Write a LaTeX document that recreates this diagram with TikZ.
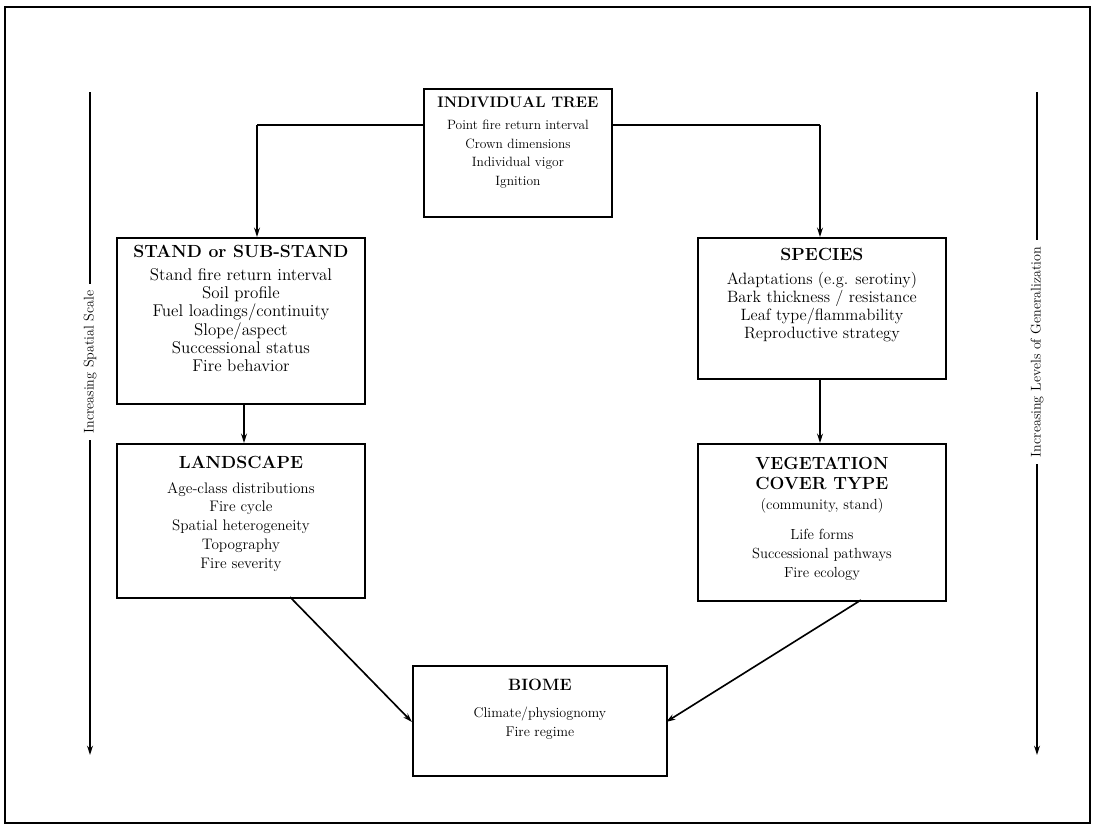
\documentclass[tikz,border=0pt]{standalone}
\usetikzlibrary{arrows.meta}
\begin{document}
\begin{tikzpicture}[x=0.03cm,y=-0.03cm,
  box/.style={draw,line width=1.6pt,inner sep=0pt,anchor=north west},
  txt/.style={align=center,inner sep=0pt,anchor=north},
  conn/.style={line width=1.4pt,-{Stealth[length=8pt,width=5pt]}},
  side/.style={line width=1.2pt},
  sidelab/.style={fill=white,rotate=90,inner xsep=6pt,inner ysep=2pt,font=\fontsize{12}{14}\selectfont}
]
\useasboundingbox (0,0) rectangle (1093,828);
\draw[line width=2.2pt] (5,7) rectangle (1090,823);

\def\ttl#1{\fontsize{#1}{#1}\selectfont\bfseries}

% boxes
\node[box,minimum width=188*0.03cm,minimum height=128*0.03cm] (tree) at (423,88) {};
\node[txt,font=\fontsize{11.5}{16}\selectfont] (treeT) at ([yshift=-7pt]tree.north)
  {{\ttl{13}INDIVIDUAL TREE}\\[3pt]
   Point fire return interval\\ Crown dimensions\\ Individual vigor\\ Ignition};

\node[box,minimum width=248*0.03cm,minimum height=166*0.03cm] (stand) at (116,237) {};
\node[txt,font=\fontsize{14.5}{15.5}\selectfont] (standT) at ([yshift=-7pt]stand.north)
  {{\ttl{15}STAND or SUB-STAND}\\[4pt]
   Stand fire return interval\\ Soil profile\\ Fuel loadings/continuity\\
   Slope/aspect\\ Successional status\\ Fire behavior};

\node[box,minimum width=248*0.03cm,minimum height=141*0.03cm] (species) at (697,237) {};
\node[txt,font=\fontsize{14}{15.5}\selectfont] (speciesT) at ([yshift=-9pt]species.north)
  {{\ttl{15}SPECIES}\\[5pt]
   Adaptations (e.g. serotiny)\\ Bark thickness / resistance\\
   Leaf type/flammability\\ Reproductive strategy};

\node[box,minimum width=248*0.03cm,minimum height=154*0.03cm] (land) at (116,443) {};
\node[txt,font=\fontsize{13}{16}\selectfont] (landT) at ([yshift=-11pt]land.north)
  {{\ttl{15}LANDSCAPE}\\[5pt]
   Age-class distributions\\ Fire cycle\\ Spatial heterogeneity\\
   Topography\\ Fire severity};

\node[box,minimum width=248*0.03cm,minimum height=157*0.03cm] (veg) at (697,443) {};
\node[txt,font=\fontsize{12.5}{16}\selectfont] (vegT) at ([yshift=-12pt]veg.north)
  {{\ttl{15}VEGETATION}\\[1pt]
   {\ttl{15}COVER TYPE}\\[1pt]
   (community, stand)\\[10pt]
   Life forms\\ Successional pathways\\ Fire ecology};

\node[box,minimum width=254*0.03cm,minimum height=110*0.03cm] (biome) at (412,665) {};
\node[txt,font=\fontsize{12}{16}\selectfont] (biomeT) at ([yshift=-12pt]biome.north)
  {{\ttl{14}BIOME}\\[7pt]
   Climate/physiognomy\\ Fire regime};

% connectors
\coordinate (tl) at (257,125);
\coordinate (tr) at (820,125);
\draw[line width=1.4pt] (tree.west |- tl) -- (tl);
\draw[conn] (tl) -- (tl |- stand.north);
\draw[line width=1.4pt] (tree.east |- tr) -- (tr);
\draw[conn] (tr) -- (tr |- species.north);
\coordinate (s1) at (244,403);
\draw[conn] (s1) -- (s1 |- land.north);
\coordinate (s2) at (820,378);
\draw[conn] (s2) -- (s2 |- veg.north);
\coordinate (l1) at (290,597);
\coordinate (b1) at (412,722);
\coordinate (v1) at (861,600);
\coordinate (b2) at (666,722);
\draw[conn] (l1) -- (b1);
\draw[conn] (v1) -- (b2);

% side arrows
\coordinate (lt) at (90,92);
\coordinate (lb) at (90,755);
\coordinate (rt) at (1037,92);
\coordinate (rb) at (1037,755);
\draw[side,-{Stealth[length=8pt,width=5pt]}] (lt) -- (lb);
\draw[side,-{Stealth[length=8pt,width=5pt]}] (rt) -- (rb);
\node[sidelab] (ll) at (90,362) {Increasing Spatial Scale};
\node[sidelab] (rl) at (1037,352) {Increasing Levels of Generalization};
\end{tikzpicture}
\end{document}
